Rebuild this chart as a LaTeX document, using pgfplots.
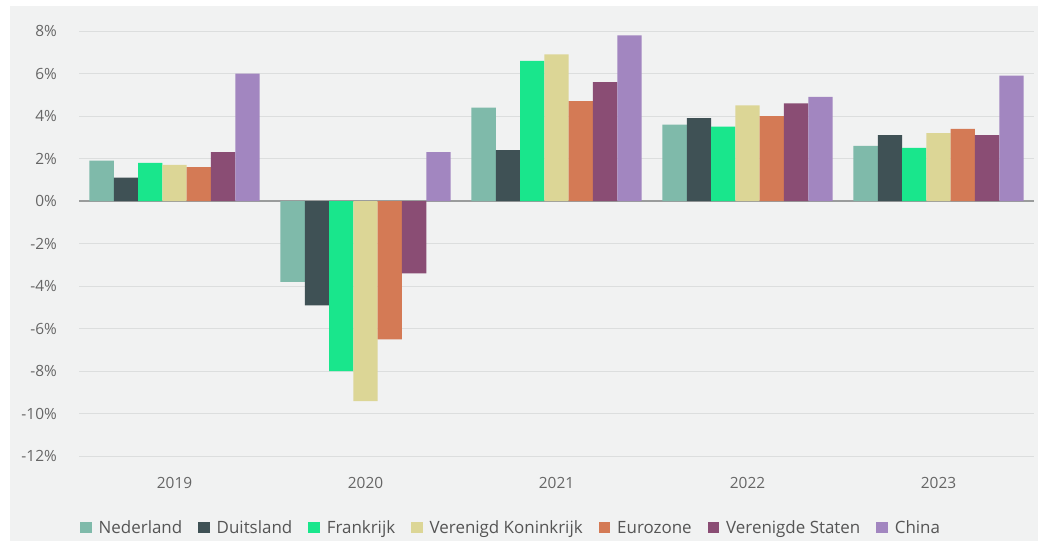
\documentclass[border=0pt]{standalone}
\usepackage{pgfplots}
\pgfplotsset{compat=1.18}
\usepackage{fontspec}
\setmainfont{Open Sans}
\definecolor{bg}{HTML}{F1F2F2}
\definecolor{gridc}{HTML}{DCDEDE}
\definecolor{zeroc}{HTML}{9A9C9C}
\definecolor{tickc}{HTML}{666666}
\definecolor{legc}{HTML}{555555}
\definecolor{cNL}{HTML}{7FBAAA}
\definecolor{cDE}{HTML}{3F5155}
\definecolor{cFR}{HTML}{19E68C}
\definecolor{cUK}{HTML}{DCD696}
\definecolor{cEZ}{HTML}{D47A55}
\definecolor{cUS}{HTML}{8A4D74}
\definecolor{cCN}{HTML}{A286C0}
\begin{document}
\begin{tikzpicture}
\path[use as bounding box] (-79bp,-84.7bp) rectangle (959bp,456.3bp);
\fill[white] (-79bp,-84.7bp) rectangle (959bp,456.3bp);
\fill[bg] (-69bp,-84.7bp) rectangle (959bp,450.3bp);
\begin{axis}[
  at={(0,0)}, anchor=south west,
  scale only axis, width=955bp, height=425.3bp,
  xmin=-0.5, xmax=4.5, ymin=-12, ymax=8,
  axis line style={draw=none},
  tick style={draw=none},
  major tick length=0pt,
  ymajorgrids,
  grid style={color=gridc, line width=0.9pt},
  extra y ticks={0},
  extra y tick labels={},
  extra y tick style={grid style={color=zeroc, line width=1.3pt}},
  ytick={-12,-10,-8,-6,-4,-2,0,2,4,6,8},
  yticklabels={-12\%,-10\%,-8\%,-6\%,-4\%,-2\%,0\%,2\%,4\%,6\%,8\%},
  xtick={0,1,2,3,4},
  xticklabels={2019,2020,2021,2022,2023},
  tick label style={font=\fontsize{15.5}{18}\selectfont, text=tickc, inner sep=0pt},
  yticklabel style={anchor=east, xshift=-22bp},
  xticklabel style={anchor=center, yshift=-26.4bp},
  ybar=0pt, bar width=24.3bp,
  legend columns=7,
  legend image code/.code={\fill[#1] (0bp,-5.75bp) rectangle (11.5bp,5.75bp);},
  legend style={at={(0,0)}, anchor=west, xshift=1bp, yshift=-71.4bp,
    draw=none, fill=none, inner sep=0pt,
    font=\fontsize{17}{19}\selectfont, text=legc,
    nodes={inner sep=0pt},
    /tikz/every odd column/.append style={column sep=7bp},
    /tikz/every even column/.append style={column sep=16bp}},
]
\addplot[fill=cNL, draw=none] coordinates {(0,1.9) (1,-3.8) (2,4.4) (3,3.6) (4,2.6)};
\addplot[fill=cDE, draw=none] coordinates {(0,1.1) (1,-4.9) (2,2.4) (3,3.9) (4,3.1)};
\addplot[fill=cFR, draw=none] coordinates {(0,1.8) (1,-8.0) (2,6.6) (3,3.5) (4,2.5)};
\addplot[fill=cUK, draw=none] coordinates {(0,1.7) (1,-9.4) (2,6.9) (3,4.5) (4,3.2)};
\addplot[fill=cEZ, draw=none] coordinates {(0,1.6) (1,-6.5) (2,4.7) (3,4.0) (4,3.4)};
\addplot[fill=cUS, draw=none] coordinates {(0,2.3) (1,-3.4) (2,5.6) (3,4.6) (4,3.1)};
\addplot[fill=cCN, draw=none] coordinates {(0,6.0) (1,2.3) (2,7.8) (3,4.9) (4,5.9)};
\legend{Nederland, Duitsland, Frankrijk, Verenigd Koninkrijk, Eurozone, Verenigde Staten, China}
\end{axis}
\end{tikzpicture}
\end{document}
